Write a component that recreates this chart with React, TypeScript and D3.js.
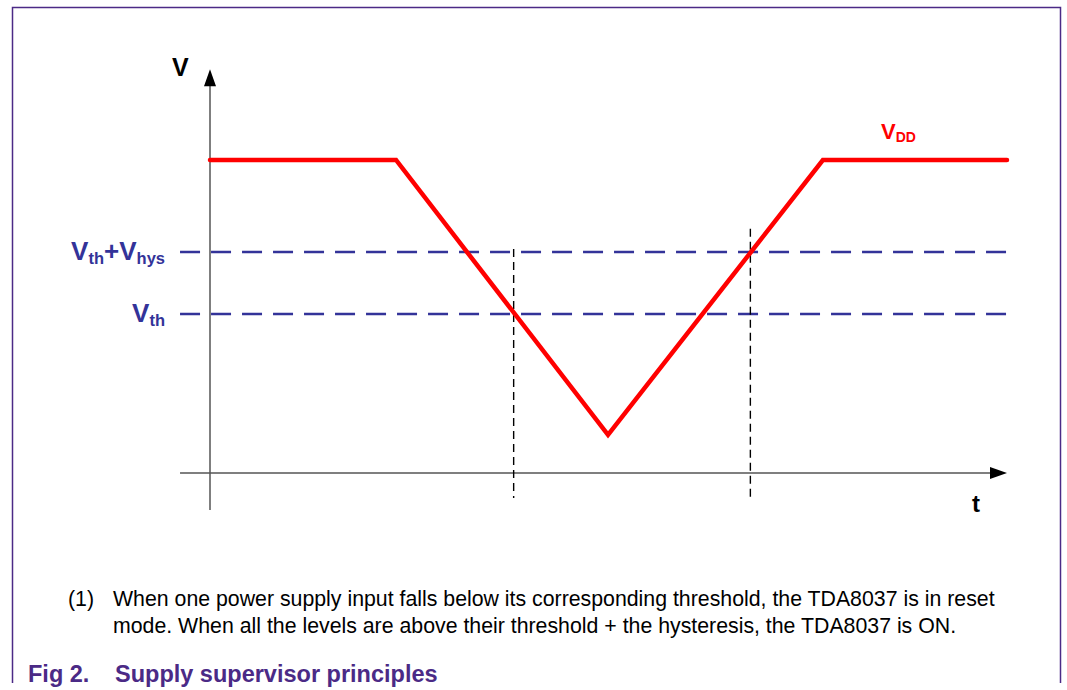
import React from "react";
import * as d3 from "d3";

// Time / voltage data (arbitrary units)
const vddTimes = [0, 2.334, 4.994, 7.69, 10];
const vddValues = [5, 5, 0.61, 5, 5];
const thresholdLevels = [3.53, 2.54]; // Vth+Vhys, Vth
const resetMarkerTimes = [3.81, 6.78];
const resetMarkerTops = [3.58, 3.9];

const W = 1067;
const H = 690;

export default function App() {
  const x = d3.scaleLinear().domain([0, 10]).range([210, 1007]);
  const y = d3.scaleLinear().domain([0, 5]).range([473, 160]);

  const vddPts: [number, number][] = vddTimes.map((t, i) => [t, vddValues[i]]);
  const line = d3
    .line<[number, number]>()
    .x((d) => x(d[0]))
    .y((d) => y(d[1]));

  const blue = "#333399";
  const purple = "#4b2a86";
  const font = "Liberation Sans, Arial, sans-serif";

  const xStart = x(-0.376);
  const xEnd = x(10);
  const yTop = y(6.45);
  const yBottom = y(-0.59);

  return (
    <svg
      width={W}
      height={H}
      style={{ position: "absolute", left: 0, top: 0 }}
      fontFamily={font}
    >
      <rect x={0} y={0} width={W} height={H} fill="#fff" />
      {/* frame */}
      <path
        d={`M12.5,683 L12.5,7.5 L1060.5,7.5 L1060.5,683`}
        fill="none"
        stroke={purple}
        strokeWidth={1.5}
      />

      {/* axes */}
      <line x1={x(0)} y1={yBottom} x2={x(0)} y2={yTop + 14} stroke="#555" strokeWidth={1.5} />
      <path
        d={`M${x(0)},${yTop} L${x(0) - 6},${yTop + 17} L${x(0) + 6},${yTop + 17} Z`}
        fill="#000"
      />
      <line x1={xStart} y1={y(0)} x2={xEnd - 14} y2={y(0)} stroke="#555" strokeWidth={1.5} />
      <path
        d={`M${xEnd},${y(0)} L${xEnd - 17},${y(0) - 6} L${xEnd - 17},${y(0) + 6} Z`}
        fill="#000"
      />

      {/* threshold dashed lines */}
      {thresholdLevels.map((v, i) => (
        <line
          key={i}
          x1={xStart}
          y1={y(v)}
          x2={xEnd}
          y2={y(v)}
          stroke={blue}
          strokeWidth={2.5}
          strokeDasharray="20 11"
        />
      ))}

      {/* reset markers */}
      {resetMarkerTimes.map((t, i) => (
        <line
          key={i}
          x1={x(t)}
          y1={y(resetMarkerTops[i])}
          x2={x(t)}
          y2={yBottom - 12}
          stroke="#000"
          strokeWidth={1.4}
          strokeDasharray="8 5"
        />
      ))}

      {/* VDD */}
      <path
        d={line(vddPts) || ""}
        fill="none"
        stroke="#ff0000"
        strokeWidth={4.5}
        strokeLinejoin="miter"
        strokeLinecap="round"
      />

      {/* labels */}
      <text x={172} y={76} fontSize={25} fontWeight="bold" fill="#000">
        V
      </text>
      <text x={972} y={512} fontSize={24} fontWeight="bold" fill="#000">
        t
      </text>
      <text x={881} y={139} fontSize={22} fontWeight="bold" fill="#ff0000">
        V<tspan fontSize={14} dy={3}>DD</tspan>
      </text>
      <text x={165} y={y(thresholdLevels[0]) + 8} fontSize={26} fontWeight="bold" fill={blue} textAnchor="end">
        V<tspan fontSize={16.5} dy={4}>th</tspan>
        <tspan dy={-4}>+V</tspan>
        <tspan fontSize={16.5} dy={4}>hys</tspan>
      </text>
      <text x={165} y={y(thresholdLevels[1]) + 8} fontSize={26} fontWeight="bold" fill={blue} textAnchor="end">
        V<tspan fontSize={16.5} dy={4}>th</tspan>
      </text>

      {/* footnote */}
      <text x={68} y={606} fontSize={21.3} fill="#000">
        (1)
      </text>
      <text x={113} y={606} fontSize={21.3} fill="#000">
        When one power supply input falls below its corresponding threshold, the TDA8037 is in reset
      </text>
      <text x={113} y={633} fontSize={21.3} fill="#000">
        mode. When all the levels are above their threshold + the hysteresis, the TDA8037 is ON.
      </text>

      {/* caption */}
      <text x={28} y={682} fontSize={23.5} fontWeight="bold" fill={purple}>
        Fig 2.
      </text>
      <text x={115} y={682} fontSize={23.5} fontWeight="bold" fill={purple}>
        Supply supervisor principles
      </text>
    </svg>
  );
}
